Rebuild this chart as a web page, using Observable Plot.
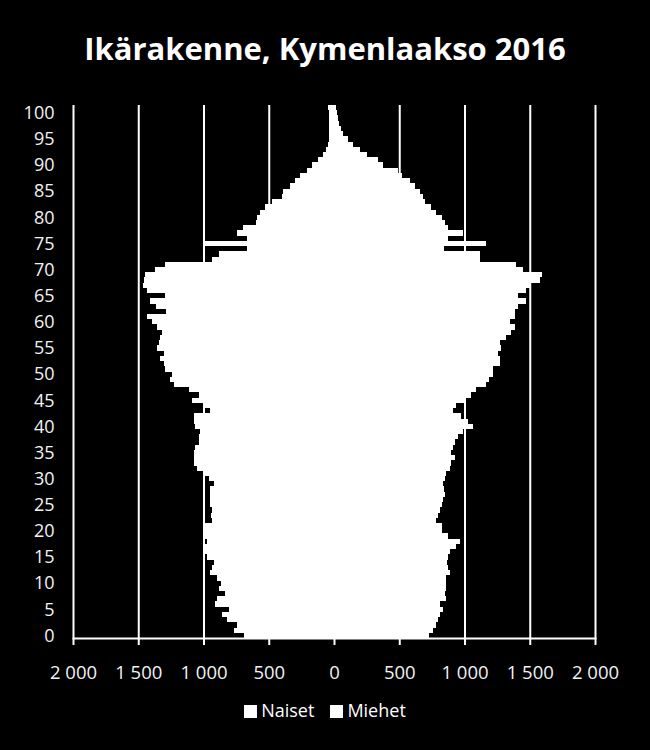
<!DOCTYPE html>
<html>
<head>
<meta charset="utf-8">
<script src="https://cdn.jsdelivr.net/npm/d3@7"></script>
<script src="https://cdn.jsdelivr.net/npm/@observablehq/plot@0.6"></script>
<style>
  html, body { margin: 0; padding: 0; background: #000; width: 650px; height: 750px; overflow: hidden; }
  #title { height: 96px; line-height: 96px; text-align: center; color: #fff; font-family: "Open Sans", sans-serif; font-weight: 700; font-size: 31px; }
  #chart { height: 600px; }
  #chart svg { display: block; }
  #legend { text-align: center; color: #fff; font-family: "Open Sans", sans-serif; font-size: 18px; line-height: 24px; margin-top: 2px; }
  #legend span.sw { display: inline-block; width: 13px; height: 13px; background: #fff; vertical-align: -1px; margin-right: 4px; }
  #legend span.item { margin: 0 8px; }
</style>
</head>
<body>
<div id="title">Ikärakenne, Kymenlaakso 2016</div>
<div id="chart"></div>
<div id="legend"></div>
<script>
// 102 categories: ages 0..100 and one top category (101)
const ages = d3.range(0, 102);
const seriesNames = ["Naiset", "Miehet"];
// Miehet (left side), ages 0..101
const miehet = [686,770,745,821,859,808,910,898,834,885,
  867,898,954,936,923,974,987,987,974,995,
  995,987,936,943,936,954,949,949,949,923,
  961,995,1051,1076,1076,1076,1063,1038,1038,1030,
  1063,1076,1076,949,1005,1089,1038,1114,1229,1255,
  1242,1293,1306,1331,1306,1357,1344,1331,1321,1357,
  1395,1433,1288,1362,1408,1293,1433,1464,1459,1446,
  1369,1293,936,885,668,987,668,745,694,600,
  587,566,528,477,400,388,337,298,260,209,
  171,120,82,61,43,40,42,40,38,40,42,45];
// Naiset (right side), ages 0..101
const naiset = [729,760,780,798,811,836,816,862,849,862,
  857,862,887,875,867,875,892,938,969,875,
  831,826,785,798,811,824,836,849,841,836,
  849,862,887,900,926,900,913,926,951,989,
  1066,1028,977,913,938,1002,1053,1091,1168,1188,
  1219,1219,1275,1270,1257,1283,1275,1321,1360,1385,
  1346,1385,1385,1410,1474,1410,1470,1500,1580,1592,
  1446,1392,1120,1120,845,1168,875,989,875,850,
  824,785,747,696,683,658,620,581,518,492,
  377,339,255,199,148,110,71,51,41,33,25,15];
const xTicks = [-2000,-1500,-1000,-500,0,500,1000,1500,2000];
const yTicks = d3.range(0, 101, 5);

const rows = ages.flatMap((a, i) => [
  {age: a, sex: "Miehet", v: -miehet[i]},
  {age: a, sex: "Naiset", v: naiset[i]}
]);

const fmt = d3.formatLocale({decimal: ",", thousands: "\u00a0", grouping: [3], currency: ["", ""]}).format(",");

const chart = Plot.plot({
  width: 650,
  height: 600,
  marginLeft: 73,
  marginRight: 55,
  marginTop: 9,
  marginBottom: 58,
  style: {background: "#000", color: "#f2f2f2", fontFamily: "Open Sans, sans-serif", fontSize: "17px"},
  x: {domain: [-2000, 2000], label: null},
  y: {type: "band", domain: ages.slice().reverse(), padding: 0, round: false, label: null},
  marks: [
    Plot.ruleX(xTicks, {stroke: "#fff", strokeWidth: 2}),
    Plot.barX(rows, {x1: 0, x2: "v", y: "age", fill: "#fff", shapeRendering: "crispEdges"}),
    Plot.frame({anchor: "bottom", stroke: "#fff", strokeWidth: 2}),
    Plot.axisX({ticks: xTicks, tickFormat: d => fmt(Math.abs(d)), tickSize: 7, tickPadding: 20, stroke: "#fff", strokeWidth: 2, fill: "#f2f2f2", fontSize: 18.5, label: null}),
    Plot.axisY({ticks: yTicks, tickSize: 0, tickPadding: 19, fill: "#f2f2f2", fontSize: 18, label: null})
  ]
});
document.getElementById("chart").appendChild(chart);

const legend = document.getElementById("legend");
seriesNames.forEach(n => {
  const it = document.createElement("span");
  it.className = "item";
  it.innerHTML = '<span class="sw"></span>' + n;
  legend.appendChild(it);
});
</script>
</body>
</html>
